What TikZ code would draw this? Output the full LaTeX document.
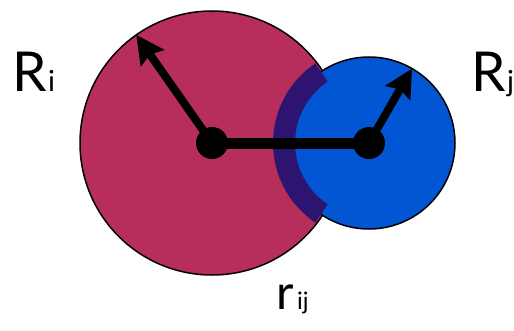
\documentclass[tikz,border=0pt]{standalone}
\usepackage{fontspec}
\setmainfont{Lato}
\usetikzlibrary{arrows.meta,calc}
\definecolor{cred}{RGB}{183,46,91}
\definecolor{cblue}{RGB}{2,86,212}
\definecolor{cpurple}{RGB}{44,20,112}
\tikzset{
  ball/.style={draw=black, line width=1.5pt},
  radiusarrow/.style={line width=8pt, -{Stealth[length=28pt,width=28pt,inset=4pt]}},
  centerdot/.style={circle, fill=black, inner sep=0pt, minimum size=32pt},
  biglabel/.style={inner sep=0pt, anchor=base west, font=\fontsize{55}{60}\selectfont},
  sublabel/.style={inner sep=0pt, anchor=base west, font=\fontsize{29}{32}\selectfont},
}
\begin{document}
\begin{tikzpicture}[x=1pt,y=1pt]
\useasboundingbox (0,0) rectangle (514,330);
% circles
\coordinate (ci) at (212,187);
\coordinate (cj) at (369,187);
\fill[cred] (ci) circle[radius=132];
\draw[ball] (ci) circle[radius=132];
\fill[cblue] (cj) circle[radius=86];
\draw[ball] (cj) circle[radius=86];
% overlap band
\fill[cpurple] ($(cj)+(124:96)$) arc[start angle=124, end angle=236, radius=96]
  -- ($(cj)+(236:74)$) arc[start angle=236, end angle=124, radius=74] -- cycle;
% radius arrows
\coordinate (ti) at ($(ci)+(125:132)$);
\coordinate (tj) at ($(cj)+(60:86)$);
\draw[radiusarrow] (ci) -- (ti);
\draw[radiusarrow] (cj) -- (tj);
% center line
\draw[line width=11pt] (ci) -- (cj);
\node[centerdot] (di) at (ci) {};
\node[centerdot] (dj) at (cj) {};
% labels
\node[biglabel] (Ri) at (12,238) {R};
\node[sublabel] (Rii) at ([xshift=1pt]Ri.base east) {i};
\node[biglabel] (Rj) at (471,238) {R};
\node[sublabel] (Rjj) at ([xshift=1pt]Rj.base east) {j};
\node[biglabel, font=\fontsize{48}{52}\selectfont] (rij) at (276,21) {r};
\node[sublabel, font=\fontsize{24}{28}\selectfont] (rijs) at ([xshift=3pt]rij.base east) {ij};
\end{tikzpicture}
\end{document}
